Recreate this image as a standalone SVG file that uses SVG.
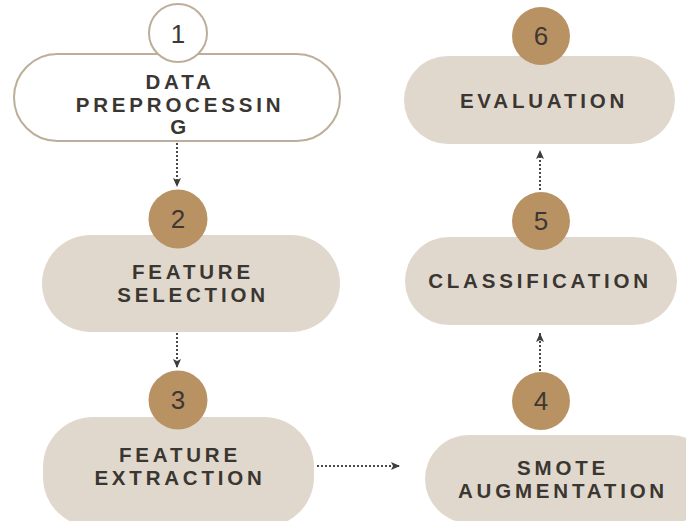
<svg xmlns="http://www.w3.org/2000/svg" width="686" height="521" viewBox="0 0 686 521">
  <defs>
    <style>
      .pill { fill: #e1d8cd; }
      .pill-outline { fill: #ffffff; stroke: #bcae98; stroke-width: 2; }
      .badge { fill: #b99263; }
      .badge-outline { fill: #ffffff; stroke: #bcae98; stroke-width: 2; }
      .num { font-family: "Liberation Sans", Arial, sans-serif; font-size: 26px; fill: #3c3833; text-anchor: middle; }
      .label { font-family: "Liberation Sans", Arial, sans-serif; font-size: 20.5px; font-weight: bold; letter-spacing: 3.8px; fill: #3a3631; text-anchor: middle; }
      .link { fill: none; stroke: #4a4744; stroke-width: 2; stroke-dasharray: 2 2; }
    </style>
    <marker id="arrow" viewBox="0 0 10 10" refX="9" refY="5" markerWidth="10" markerHeight="10" markerUnits="userSpaceOnUse" orient="auto">
      <path d="M0,1 L9,5 L0,9 L2,5 Z" fill="#3f3c39"/>
    </marker>
  </defs>

  <rect width="686" height="521" fill="#ffffff"/>

  <!-- connectors -->
  <g id="connectors">
    <line class="link" x1="177" y1="143" x2="177" y2="187" marker-end="url(#arrow)"/>
    <line class="link" x1="177" y1="333" x2="177" y2="368" marker-end="url(#arrow)"/>
    <line class="link" x1="317" y1="466" x2="400" y2="466" marker-end="url(#arrow)"/>
    <line class="link" x1="540" y1="371" x2="540" y2="333" marker-end="url(#arrow)"/>
    <line class="link" x1="540" y1="190" x2="540" y2="150" marker-end="url(#arrow)"/>
  </g>

  <!-- step 1 -->
  <g id="node-1">
    <rect class="pill-outline" x="14" y="54" width="326" height="87" rx="43.5"/>
    <circle class="badge-outline" cx="178" cy="33" r="29"/>
    <text class="num" x="178" y="43">1</text>
    <text class="label" x="180" y="89">DATA</text>
    <text class="label" x="180" y="112">PREPROCESSIN</text>
    <text class="label" x="180" y="134">G</text>
  </g>

  <!-- step 2 -->
  <g id="node-2">
    <rect class="pill" x="42" y="235" width="298" height="97" rx="48.5"/>
    <circle class="badge" cx="178" cy="219" r="29.5"/>
    <text class="num" x="178" y="228">2</text>
    <text class="label" x="193" y="279">FEATURE</text>
    <text class="label" x="193" y="302">SELECTION</text>
  </g>

  <!-- step 3 -->
  <g id="node-3">
    <rect class="pill" x="43" y="417" width="271" height="110" rx="50"/>
    <circle class="badge" cx="178" cy="400" r="29.5"/>
    <text class="num" x="178" y="409">3</text>
    <text class="label" x="180" y="462">FEATURE</text>
    <text class="label" x="180" y="485">EXTRACTION</text>
  </g>

  <!-- step 4 -->
  <g id="node-4">
    <rect class="pill" x="425" y="435" width="290" height="88" rx="44"/>
    <circle class="badge" cx="541" cy="401" r="29"/>
    <text class="num" x="541" y="410">4</text>
    <text class="label" x="563" y="475">SMOTE</text>
    <text class="label" x="563" y="498">AUGMENTATION</text>
  </g>

  <!-- step 5 -->
  <g id="node-5">
    <rect class="pill" x="405" y="237" width="272" height="88" rx="44"/>
    <circle class="badge" cx="541" cy="221" r="29"/>
    <text class="num" x="541" y="230">5</text>
    <text class="label" x="540" y="288">CLASSIFICATION</text>
  </g>

  <!-- step 6 -->
  <g id="node-6">
    <rect class="pill" x="404" y="56" width="271" height="88" rx="44"/>
    <circle class="badge" cx="541" cy="36" r="29"/>
    <text class="num" x="541" y="45">6</text>
    <text class="label" x="544" y="108">EVALUATION</text>
  </g>
</svg>
